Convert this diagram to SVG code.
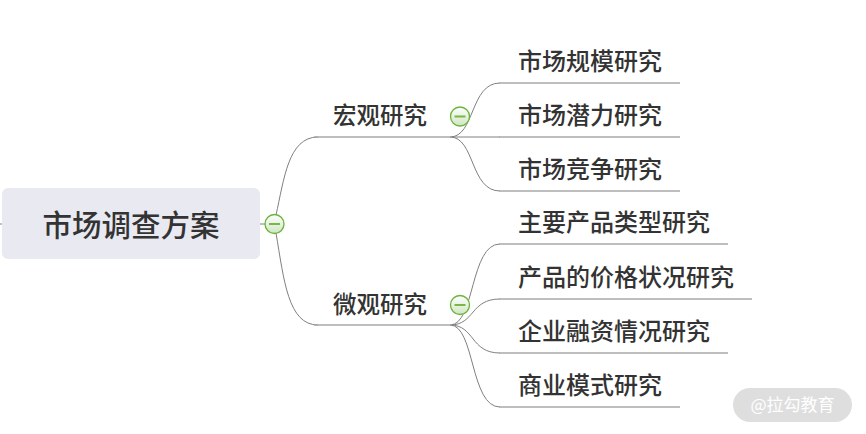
<svg xmlns="http://www.w3.org/2000/svg" width="866" height="434" viewBox="0 0 866 434">
<defs>
<linearGradient id="cg" x1="0" y1="0" x2="0" y2="1">
<stop offset="0" stop-color="#ffffff"/>
<stop offset="1" stop-color="#cfe6c2"/>
</linearGradient>
<style>
text{font-family:"Noto Sans CJK SC","Noto Sans",sans-serif;fill:#333333;font-weight:500}
.root{font-size:29.5px}
.br{font-size:23.5px}
.lf{font-size:24px}
.ul{stroke:#a8a8a8;stroke-width:1.6;fill:none}
.cv{stroke:#808080;stroke-width:1;fill:none}
.tg circle{fill:url(#cg);stroke:#6cb33e;stroke-width:1.3}
.tg line{stroke:#7ab648;stroke-width:2}
</style>
</defs>
<rect width="866" height="434" fill="#ffffff"/>
<g id="connectors">
<line class="cv" x1="0" y1="224" x2="3" y2="224"/>
<line class="cv" x1="260" y1="224" x2="268" y2="224"/>
<path class="cv" d="M276,215 C284,180 288,137 318,137"/>
<path class="cv" d="M276,233 C284,280 288,325 318,325"/>
<path class="cv" d="M450,137 C475,137 470,83 500,83"/>
<path class="cv" d="M450,137 L500,137"/>
<path class="cv" d="M450,137 C475,137 470,191 500,191"/>
<path class="cv" d="M450,325 C475,325 470,244 500,244"/>
<path class="cv" d="M450,325 C475,325 470,299 500,299"/>
<path class="cv" d="M450,325 C475,325 470,353 500,353"/>
<path class="cv" d="M450,325 C475,325 470,407 500,407"/>
</g>
<g id="root">
<rect x="2" y="188" width="258" height="71" rx="6" fill="#e9e9f1"/>
<text class="root" x="131" y="236" text-anchor="middle">市场调查方案</text>
<g class="tg"><circle cx="274.5" cy="224" r="9.5"/><line x1="269" y1="224" x2="280" y2="224"/></g>
</g>
<g id="n-hongguan">
<line class="ul" x1="314" y1="137" x2="452" y2="137"/>
<text class="br" x="380" y="124" text-anchor="middle">宏观研究</text>
<g class="tg"><circle cx="460" cy="116.5" r="9.5"/><line x1="454.5" y1="116.5" x2="465.5" y2="116.5"/></g>
</g>
<g id="n-weiguan">
<line class="ul" x1="314" y1="325" x2="452" y2="325"/>
<text class="br" x="380" y="313" text-anchor="middle">微观研究</text>
<g class="tg"><circle cx="460" cy="305" r="9.5"/><line x1="454.5" y1="305" x2="465.5" y2="305"/></g>
</g>
<g id="n-c1"><line class="ul" x1="499" y1="83" x2="680" y2="83"/><text class="lf" x="518" y="70">市场规模研究</text></g>
<g id="n-c2"><line class="ul" x1="499" y1="137" x2="680" y2="137"/><text class="lf" x="518" y="124">市场潜力研究</text></g>
<g id="n-c3"><line class="ul" x1="499" y1="191" x2="680" y2="191"/><text class="lf" x="518" y="178">市场竞争研究</text></g>
<g id="n-c4"><line class="ul" x1="499" y1="244" x2="728" y2="244"/><text class="lf" x="518" y="231">主要产品类型研究</text></g>
<g id="n-c5"><line class="ul" x1="499" y1="299" x2="752" y2="299"/><text class="lf" x="518" y="286">产品的价格状况研究</text></g>
<g id="n-c6"><line class="ul" x1="499" y1="353" x2="728" y2="353"/><text class="lf" x="518" y="340">企业融资情况研究</text></g>
<g id="n-c7"><line class="ul" x1="499" y1="407" x2="680" y2="407"/><text class="lf" x="518" y="394">商业模式研究</text></g>
<g id="watermark">
<rect x="733" y="388" width="119" height="34" rx="17" fill="#dedede"/>
<text x="792.5" y="411" text-anchor="middle" style="font-size:17px;fill:#ffffff;font-weight:400">@拉勾教育</text>
</g>
</svg>
